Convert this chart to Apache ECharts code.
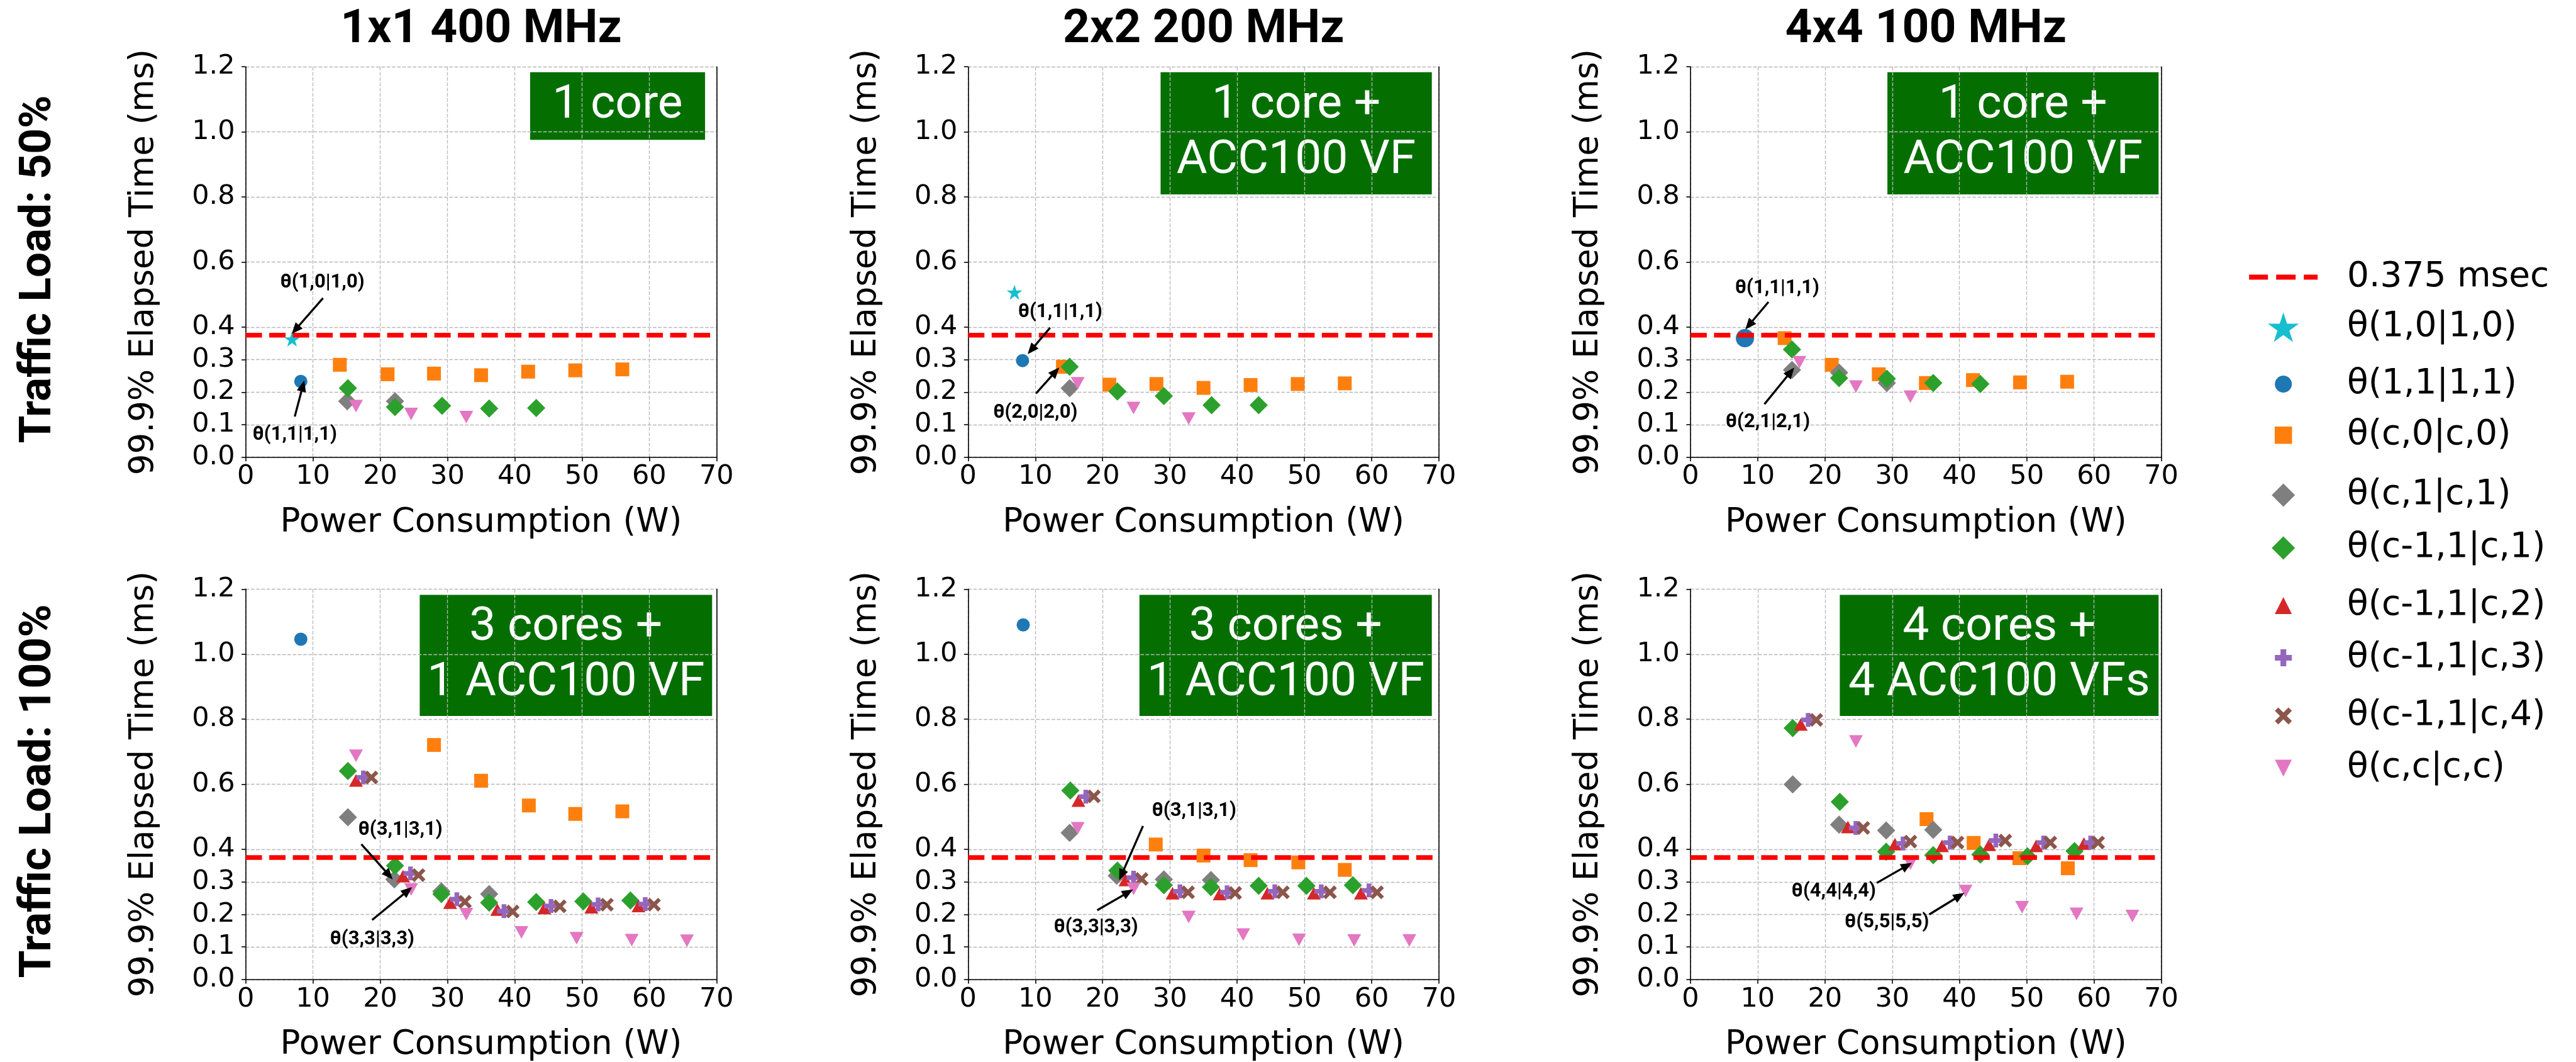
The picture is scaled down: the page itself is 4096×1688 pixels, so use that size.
<!DOCTYPE html>
<html><head><meta charset="utf-8">
<script src="https://cdn.jsdelivr.net/npm/echarts@6/dist/echarts.min.js"></script>
<style>html,body{margin:0;padding:0;background:#fff}#c{width:4096px;height:1688px}</style>
</head><body><div id="c"></div>
<script>
// ---------------- data ----------------
const panelTitles = ['1x1 400 MHz', '2x2 200 MHz', '4x4 100 MHz'];
const rowLabels = ['Traffic Load: 50%', 'Traffic Load: 100%'];
const boxLabels = ['1 core', '1 core +\nACC100 VF', '1 core +\nACC100 VF',
                   '3 cores +\n1 ACC100 VF', '3 cores +\n1 ACC100 VF', '4 cores +\n4 ACC100 VFs'];
const xAxisName = 'Power Consumption (W)';
const yAxisName = '99.9% Elapsed Time (ms)';
const yTickValues = [0, 0.1, 0.2, 0.3, 0.4, 0.6, 0.8, 1.0, 1.2];
const thresholdValue = 0.375;
const thresholdName = '0.375 msec';

// Panel A: 1x1 400 MHz, load 50%
const a_t10 = [[6.9, 0.363]];
const a_t11 = [[8.2, 0.233]];
const a_c0  = [[14.0,0.284],[21.1,0.255],[28.0,0.257],[35.0,0.252],[42.0,0.263],[49.0,0.267],[56.0,0.270]];
const a_c1  = [[15.1,0.172],[22.2,0.172]];
const a_m1  = [[15.2,0.212],[22.2,0.154],[29.2,0.158],[36.2,0.150],[43.2,0.151]];
const a_cc  = [[16.4,0.157],[24.6,0.133],[32.8,0.123]];
// Panel B: 2x2 200 MHz, load 50%
const b_t10 = [[6.9, 0.507]];
const b_t11 = [[8.1, 0.297]];
const b_c0  = [[14.1,0.278],[21.0,0.223],[28.0,0.225],[35.0,0.213],[42.0,0.222],[49.0,0.225],[56.0,0.227]];
const b_c1  = [[15.1,0.212]];
const b_m1  = [[15.1,0.278],[22.2,0.202],[29.1,0.188],[36.2,0.160],[43.2,0.160]];
const b_cc  = [[16.3,0.227],[24.6,0.151],[32.8,0.119]];
// Panel C: 4x4 100 MHz, load 50%
const c_t11 = [[8.1, 0.366]];
const c_c0  = [[14.0,0.366],[21.0,0.284],[28.0,0.255],[35.0,0.228],[42.0,0.237],[49.0,0.230],[56.0,0.232]];
const c_c1  = [[15.1,0.268],[22.1,0.260],[29.2,0.228]];
const c_m1  = [[15.1,0.331],[22.1,0.243],[29.2,0.241],[36.1,0.228],[43.1,0.225]];
const c_cc  = [[16.2,0.292],[24.6,0.217],[32.7,0.186]];
// Panel D: 1x1 400 MHz, load 100%
const d_t11 = [[8.2, 1.046]];
const d_c0  = [[28.0,0.721],[35.0,0.611],[42.1,0.535],[49.0,0.509],[56.0,0.517]];
const d_c1  = [[15.2,0.499],[22.1,0.308],[29.1,0.271],[36.2,0.263]];
const d_m1  = [[15.2,0.641],[22.2,0.350],[29.1,0.263],[36.2,0.236],[43.2,0.238],[50.2,0.240],[57.2,0.243]];
const d_m2  = [[16.4,0.612],[23.4,0.318],[30.4,0.236],[37.4,0.215],[44.4,0.220],[51.4,0.222],[58.4,0.226]];
const d_m3  = [[17.5,0.621],[24.5,0.326],[31.4,0.247],[38.4,0.210],[45.4,0.226],[52.4,0.231],[59.4,0.232]];
const d_m4  = [[18.7,0.621],[25.7,0.321],[32.6,0.239],[39.7,0.209],[46.7,0.225],[53.7,0.230],[60.7,0.230]];
const d_cc  = [[16.4,0.688],[24.6,0.277],[32.8,0.201],[41.0,0.145],[49.2,0.127],[57.4,0.121],[65.6,0.119]];
// Panel E: 2x2 200 MHz, load 100%
const e_t11 = [[8.2, 1.090]];
const e_c0  = [[27.9,0.415],[35.0,0.381],[42.0,0.367],[49.1,0.360],[56.0,0.337]];
const e_c1  = [[15.1,0.451],[22.1,0.319],[29.1,0.308],[36.1,0.306]];
const e_m1  = [[15.2,0.581],[22.2,0.335],[29.1,0.290],[36.1,0.284],[43.2,0.288],[50.3,0.288],[57.2,0.290]];
const e_m2  = [[16.4,0.550],[23.4,0.306],[30.4,0.265],[37.4,0.263],[44.5,0.265],[51.4,0.265],[58.4,0.265]];
const e_m3  = [[17.5,0.562],[24.6,0.313],[31.5,0.271],[38.5,0.268],[45.6,0.271],[52.5,0.271],[59.6,0.274]];
const e_m4  = [[18.7,0.563],[25.8,0.309],[32.7,0.268],[39.7,0.266],[46.8,0.268],[53.8,0.268],[60.8,0.268]];
const e_cc  = [[16.3,0.465],[24.6,0.279],[32.8,0.192],[40.9,0.138],[49.2,0.122],[57.4,0.120],[65.6,0.120]];
// Panel F: 4x4 100 MHz, load 100%
const f_c0  = [[35.1,0.493],[42.1,0.420],[48.9,0.373],[56.1,0.342]];
const f_c1  = [[15.2,0.600],[22.1,0.476],[29.1,0.458],[36.1,0.460]];
const f_m1  = [[15.2,0.773],[22.2,0.546],[29.1,0.393],[36.1,0.382],[43.1,0.384],[50.1,0.379],[57.1,0.395]];
const f_m2  = [[16.4,0.784],[23.4,0.469],[30.4,0.416],[37.4,0.411],[44.4,0.414],[51.4,0.411],[58.5,0.418]];
const f_m3  = [[17.5,0.798],[24.6,0.466],[31.6,0.418],[38.6,0.421],[45.4,0.427],[52.5,0.421],[59.5,0.421]];
const f_m4  = [[18.7,0.798],[25.7,0.466],[32.7,0.424],[39.7,0.421],[46.8,0.427],[53.5,0.421],[60.6,0.421]];
const f_cc  = [[16.4,1.22],[24.6,0.732],[32.7,0.356],[40.9,0.272],[49.3,0.222],[57.4,0.202],[65.7,0.195]];

// annotation texts and where they point (data coordinates)
const annotA = [{text:'θ(1,0|1,0)', at:[11.4,0.536], from:[11.5,0.489], to:[7.4,0.392]},
                {text:'θ(1,1|1,1)', at:[7.3,0.069],  from:[7.3,0.125],  to:[8.5,0.219]}];
const annotB = [{text:'θ(1,1|1,1)', at:[13.7,0.445], from:[12.2,0.398], to:[9.4,0.33]},
                {text:'θ(2,0|2,0)', at:[10.0,0.137], from:[10.1,0.196], to:[13.0,0.263]}];
const annotC = [{text:'θ(1,1|1,1)', at:[12.9,0.520], from:[11.6,0.477], to:[8.7,0.406]},
                {text:'θ(2,1|2,1)', at:[11.5,0.107], from:[11.0,0.163], to:[14.9,0.262]}];
const annotD = [{text:'θ(3,1|3,1)', at:[23.0,0.459], from:[17.2,0.416], to:[21.3,0.321]},
                {text:'θ(3,3|3,3)', at:[18.8,0.124], from:[18.8,0.183], to:[24.1,0.273]}];
const annotE = [{text:'θ(3,1|3,1)', at:[33.6,0.518], from:[26.0,0.472], to:[22.8,0.321]},
                {text:'θ(3,3|3,3)', at:[19.0,0.159], from:[19.2,0.213], to:[23.8,0.268]}];
const annotF = [{text:'θ(4,4|4,4)', at:[21.3,0.271], from:[27.7,0.297], to:[32.2,0.350]},
                {text:'θ(5,5|5,5)', at:[29.2,0.175], from:[35.5,0.200], to:[40.0,0.257]}];

// ---------------- styles / layout ----------------
const STAR = 'path://M50,0L61.2,34.5L97.6,34.5L68.2,55.9L79.4,90.5L50,69.1L20.6,90.5L31.8,55.9L2.4,34.5L38.8,34.5Z';
const PLUS = 'path://M33,0H67V33H100V67H67V100H33V67H0V33H33Z';
const XSYM = 'path://M0,20L20,0L50,30L80,0L100,20L70,50L100,80L80,100L50,70L20,100L0,80L30,50Z';
const DOWN = 'path://M0,0H100L50,100Z';
const UP   = 'path://M50,0L100,100H0Z';
const SQR  = 'path://M0,0H100V100H0Z';
const DIAM = 'path://M50,0L100,50L50,100L0,50Z';
const DASH = 'path://M0,0h30v8h-30z M43,0h31v8h-31z M87,0h22v8h-22z';

// lh = legend marker height, lw = legend marker drawn width
const meta = [
  {key:'t10', name:'θ(1,0|1,0)',   color:'#17becf', symbol:STAR,     size:[25,24], lh:47,   lw:49.4},
  {key:'t11', name:'θ(1,1|1,1)',   color:'#1f77b4', symbol:'circle', size:21,      lh:27,   lw:27},
  {key:'c0',  name:'θ(c,0|c,0)',   color:'#ff7f0e', symbol:SQR,      size:22,      lh:27.5, lw:27.5},
  {key:'c1',  name:'θ(c,1|c,1)',   color:'#7f7f7f', symbol:DIAM,     size:29,      lh:37,   lw:37},
  {key:'m1',  name:'θ(c-1,1|c,1)', color:'#2ca02c', symbol:DIAM,     size:29,      lh:37,   lw:37},
  {key:'m2',  name:'θ(c-1,1|c,2)', color:'#d62728', symbol:UP,       size:[22,20], lh:27,   lw:27},
  {key:'m3',  name:'θ(c-1,1|c,3)', color:'#9467bd', symbol:PLUS,     size:22,      lh:27,   lw:27},
  {key:'m4',  name:'θ(c-1,1|c,4)', color:'#8c564b', symbol:XSYM,     size:22,      lh:27,   lw:27},
  {key:'cc',  name:'θ(c,c|c,c)',   color:'#e377c2', symbol:DOWN,     size:[22,20], lh:27,   lw:27}
];
const panels = [
  {t10:a_t10, t11:a_t11, c0:a_c0, c1:a_c1, m1:a_m1, cc:a_cc, notes:annotA},
  {t10:b_t10, t11:b_t11, c0:b_c0, c1:b_c1, m1:b_m1, cc:b_cc, notes:annotB},
  {t11:c_t11, c0:c_c0, c1:c_c1, m1:c_m1, cc:c_cc, notes:annotC, bigCircle:true},
  {t11:d_t11, c0:d_c0, c1:d_c1, m1:d_m1, m2:d_m2, m3:d_m3, m4:d_m4, cc:d_cc, notes:annotD},
  {t11:e_t11, c0:e_c0, c1:e_c1, m1:e_m1, m2:e_m2, m3:e_m3, m4:e_m4, cc:e_cc, notes:annotE},
  {c0:f_c0, c1:f_c1, m1:f_m1, m2:f_m2, m3:f_m3, m4:f_m4, cc:f_cc, notes:annotF}
];

const GRID_LEFT = [390.6, 1539.3, 2687.9];
const GRID_TOP = [106.2, 936.4];
const GRID_W = 748.7, GRID_H = 620.5;
const BOXES = [[842.9,114.8,278.2,107.4],[1845.4,114.8,431.3,194.2],[3001.1,114.8,431.2,194.2],
               [667.4,945.6,464.9,192.3],[1811.8,945.6,464.9,192.3],[2925.4,945.6,506.9,192.3]];
const LEG_CX = 3630.7, LEG_TEXT_X = 3732, LEG_Y = [440.6,520,610.5,691.7,786.9,870.9,962.4,1045.5,1137.9,1221];

const FONT = 'DejaVu Sans';
const black = '#000';

const grids = [], xAxes = [], yAxes = [], series = [];
panels.forEach((p, i) => {
  const row = i < 3 ? 0 : 1, col = i % 3;
  grids.push({left:GRID_LEFT[col], top:GRID_TOP[row], width:GRID_W, height:GRID_H, containLabel:false, outerBoundsMode:'none'});
  xAxes.push({
    type:'value', gridIndex:i, min:0, max:70, interval:10,
    name:xAxisName, nameLocation:'middle', nameGap:78, nameMoveOverlap:false,
    nameTextStyle:{fontFamily:FONT, fontSize:53, color:black},
    axisLine:{show:true, onZero:false, lineStyle:{color:black, width:1.6}},
    axisTick:{show:true, length:6.5, lineStyle:{color:black, width:1.6}},
    axisLabel:{fontFamily:FONT, fontSize:43, color:black, margin:10},
    splitLine:{show:true, lineStyle:{color:'#b8b8b8', width:1.3, type:[5.8,2.5]}}
  });
  yAxes.push({
    type:'value', gridIndex:i, min:0, max:1.2, interval:0.1,
    name:yAxisName, nameLocation:'middle', nameGap:135, nameMoveOverlap:false,
    nameTextStyle:{fontFamily:FONT, fontSize:53, color:black},
    axisLine:{show:true, onZero:false, lineStyle:{color:black, width:1.6}},
    axisTick:{show:true, length:6.5, customValues:yTickValues, lineStyle:{color:black, width:1.6}},
    axisLabel:{fontFamily:FONT, fontSize:43, color:black, margin:17, customValues:yTickValues,
               formatter:v => v.toFixed(1)},
    splitLine:{show:true, lineStyle:{color:'#b8b8b8', width:1.3, type:[5.8,2.5]}}
  });
  series.push({
    type:'line', name:thresholdName, xAxisIndex:i, yAxisIndex:i, z:3, silent:true,
    data:[[0, thresholdValue],[70, thresholdValue]], symbol:'none',
    lineStyle:{color:'#ff0000', width:7.5, type:[26,11.5]}, itemStyle:{color:'#ff0000'},
    markPoint:{
      symbol:'circle', symbolSize:0, silent:true, animation:false,
      label:{show:true, position:'inside', formatter:'{b}', color:black,
             fontFamily:'Roboto', fontWeight:'bold', fontSize:31},
      data:p.notes.map(a => ({name:a.text, coord:a.at}))
    },
    markLine:{
      silent:true, animation:false, symbol:['none','triangle'], symbolSize:[15,18],
      lineStyle:{color:black, width:3.3, type:'solid'}, label:{show:false},
      data:p.notes.map(a => [{coord:a.from},{coord:a.to}])
    }
  });
  meta.forEach(m => {
    const d = p[m.key];
    if (!d || !d.length) return;
    series.push({
      type:'scatter', name:m.name, xAxisIndex:i, yAxisIndex:i, z:2,
      data:d, symbol:m.symbol,
      symbolSize:(m.key === 't11' && p.bigCircle) ? 29 : m.size,
      itemStyle:{color:m.color, opacity:1}
    });
  });
});
// right-hand spines
panels.forEach((p, i) => {
  yAxes.push({
    type:'value', gridIndex:i, min:0, max:1.2, position:'right',
    axisLine:{show:true, onZero:false, lineStyle:{color:black, width:1.6}},
    axisTick:{show:false}, axisLabel:{show:false}, splitLine:{show:false}
  });
});

const legendNames = [thresholdName].concat(meta.map(m => m.name));
const legendHeights = [8].concat(meta.map(m => m.lh));
const legendWidths = [109].concat(meta.map(m => m.lw));
const ITEM_W = 2 * (LEG_TEXT_X - 5 - LEG_CX);
const legends = legendNames.map((n, k) => {
  const lineH = 60;
  const h = legendHeights[k];
  return {
    show:true, selectedMode:false, orient:'horizontal', padding:0, itemGap:0,
    left:LEG_CX - legendWidths[k] / 2, top:LEG_Y[k] - Math.max(h, lineH) / 2,
    itemWidth:ITEM_W, itemHeight:h, symbolKeepAspect:true,
    textStyle:{fontFamily:FONT, fontSize:55, color:black, lineHeight:lineH},
    data:[k === 0 ? {name:n, icon:DASH} : {name:n, icon:meta[k - 1].symbol}]
  };
});

const titles = panelTitles.map((t, c) => ({
  text:t, left:GRID_LEFT[c] + GRID_W / 2, top:48 - 37.5, textAlign:'center', padding:0,
  textStyle:{fontFamily:'Roboto', fontWeight:'bold', fontSize:75, color:black, lineHeight:75}
}));

const graphics = [];
rowLabels.forEach((t, r) => {
  graphics.push({
    type:'text', x:62, y:[428, 1257.5][r], rotation:Math.PI / 2, z:100,
    style:{text:t, fill:black, fontFamily:'Roboto', fontWeight:'bold', fontSize:71,
           align:'center', verticalAlign:'middle', textAlign:'center', textVerticalAlign:'middle'}
  });
});
BOXES.forEach((b, i) => {
  graphics.push({
    type:'group', z:100,
    children:[
      {type:'rect', shape:{x:b[0], y:b[1], width:b[2], height:b[3]}, style:{fill:'#046f00'}},
      {type:'text', x:b[0] + b[2] / 2, y:b[1] + b[3] / 2,
       style:{text:boxLabels[i], fill:'#fff', fontFamily:'Roboto', fontSize:75, lineHeight:88,
              align:'center', verticalAlign:'middle', textAlign:'center', textVerticalAlign:'middle'}}
    ]
  });
});

const chart = echarts.init(document.getElementById('c'), null, {renderer:'canvas', width:4096, height:1688});
chart.setOption({
  animation:false,
  backgroundColor:'#ffffff',
  title:titles,
  legend:legends,
  grid:grids,
  xAxis:xAxes,
  yAxis:yAxes,
  series:series,
  graphic:graphics
});
</script></body></html>
